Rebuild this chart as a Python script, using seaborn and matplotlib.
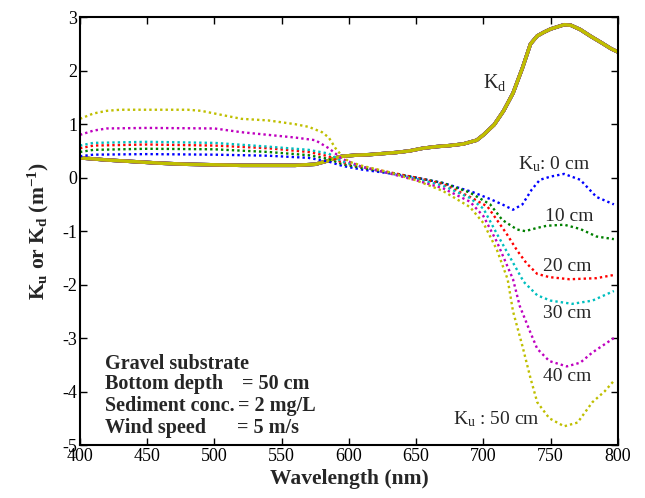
import matplotlib
matplotlib.use("Agg")
import pandas as pd
import seaborn as sns
from matplotlib import pyplot as plt

# K_d (downwelling), all depths nearly identical
kd_wl = [400, 420, 440, 460, 480, 500, 520, 540, 560, 575, 585, 590, 595, 605, 615, 625,
         635, 645, 655, 665, 675, 685, 695, 700, 708, 715, 722, 729, 735, 740, 745, 750,
         755, 760, 765, 772, 780, 788, 795, 800]
kd_val = [0.37, 0.33, 0.30, 0.27, 0.25, 0.24, 0.23, 0.23, 0.23, 0.25, 0.32, 0.37, 0.40, 0.42,
          0.43, 0.45, 0.47, 0.50, 0.55, 0.58, 0.60, 0.63, 0.70, 0.80, 0.99, 1.25, 1.58, 2.05,
          2.50, 2.65, 2.72, 2.78, 2.82, 2.86, 2.85, 2.77, 2.64, 2.52, 2.41, 2.35]

# K_u (upwelling) per depth
ku_wl_0 = [400, 410, 450, 500, 540, 570, 585, 595, 610, 630, 650, 670, 692, 705, 714, 722,
           729, 736, 742, 750, 760, 772, 784, 797]
ku_0 = [0.40, 0.43, 0.44, 0.43, 0.41, 0.37, 0.30, 0.22, 0.15, 0.08, 0.00, -0.10, -0.27,
        -0.40, -0.50, -0.60, -0.50, -0.22, -0.04, 0.02, 0.07, -0.04, -0.36, -0.50]

ku_wl_10 = [400, 410, 450, 500, 540, 570, 585, 595, 610, 630, 650, 670, 690, 705, 714, 725,
            731, 740, 747, 760, 772, 784, 797]
ku_10 = [0.48, 0.52, 0.54, 0.53, 0.48, 0.42, 0.35, 0.25, 0.18, 0.10, 0.00, -0.10, -0.28,
         -0.50, -0.79, -0.97, -1.00, -0.94, -0.90, -0.88, -0.96, -1.10, -1.15]

ku_wl_20 = [400, 410, 450, 500, 540, 570, 585, 595, 610, 630, 650, 670, 690, 703, 710, 717,
            725, 732, 740, 749, 764, 784, 797]
ku_20 = [0.55, 0.60, 0.62, 0.60, 0.55, 0.48, 0.40, 0.28, 0.20, 0.10, 0.00, -0.12, -0.36,
         -0.54, -0.79, -1.04, -1.36, -1.60, -1.80, -1.86, -1.90, -1.88, -1.82]

ku_wl_30 = [400, 410, 450, 500, 540, 570, 585, 595, 610, 630, 650, 670, 690, 700, 710, 720,
            730, 740, 750, 766, 781, 797]
ku_30 = [0.60, 0.65, 0.67, 0.65, 0.58, 0.52, 0.45, 0.30, 0.20, 0.08, -0.02, -0.15, -0.38,
         -0.58, -1.05, -1.50, -1.95, -2.20, -2.30, -2.36, -2.30, -2.12]

ku_wl_40 = [400, 410, 420, 450, 500, 520, 540, 560, 575, 585, 595, 610, 630, 650, 670, 690,
            700, 710, 722, 727, 735, 740, 749, 762, 772, 781, 797]
ku_40 = [0.80, 0.88, 0.92, 0.93, 0.92, 0.85, 0.80, 0.75, 0.70, 0.55, 0.35, 0.20, 0.08,
         -0.05, -0.20, -0.45, -0.72, -1.20, -1.90, -2.40, -2.90, -3.20, -3.43, -3.53, -3.46,
         -3.27, -3.00]

ku_wl_50 = [400, 410, 420, 430, 450, 480, 490, 500, 520, 540, 560, 570, 580, 585, 590, 595,
            600, 610, 630, 650, 670, 690, 700, 710, 718, 722, 729, 735, 740, 749, 760, 770,
            781, 790, 797]
ku_50 = [1.10, 1.20, 1.25, 1.27, 1.27, 1.27, 1.25, 1.20, 1.10, 1.07, 1.00, 0.95, 0.85, 0.75,
         0.55, 0.40, 0.30, 0.22, 0.10, -0.05, -0.25, -0.55, -0.85, -1.35, -1.90, -2.50,
         -3.15, -3.75, -4.20, -4.50, -4.65, -4.58, -4.20, -4.00, -3.80]

colors = ["b", "g", "r", "c", "m", "y"]
ku_wls = [ku_wl_0, ku_wl_10, ku_wl_20, ku_wl_30, ku_wl_40, ku_wl_50]
ku_vals = [ku_0, ku_10, ku_20, ku_30, ku_40, ku_50]

sns.set_style("ticks")
plt.rcParams["font.family"] = ["Liberation Serif", "DejaVu Serif"]
plt.rcParams["mathtext.fontset"] = "custom"
plt.rcParams["mathtext.rm"] = "Liberation Serif"
plt.rcParams["mathtext.it"] = "Liberation Serif:italic"
plt.rcParams["mathtext.bf"] = "Liberation Serif:bold"
plt.rcParams["axes.unicode_minus"] = False

fig = plt.figure(figsize=(6.45, 4.98), dpi=100)
ax = fig.add_axes([0.124, 0.1064, 0.834, 0.859])

# K_d solid lines
for c in colors:
    sns.lineplot(x=kd_wl, y=kd_val, ax=ax, color=c, linewidth=2.5, estimator=None)

# K_u dotted lines
for c, wl, v in zip(colors, ku_wls, ku_vals):
    df = pd.DataFrame({"wl": wl, "k": v})
    sns.lineplot(data=df, x="wl", y="k", ax=ax, color=c, linewidth=1.7,
                 linestyle=(0, (1, 1.3)), estimator=None)

ax.set_xlim(400, 800)
ax.set_ylim(-5, 3)
ax.set_xticks(range(400, 801, 50))
ax.set_yticks(range(-5, 4))
ax.tick_params(direction="in", top=True, right=True, length=5, width=1,
               labelsize=13, colors="black", pad=2)
for s in ax.spines.values():
    s.set_linewidth(1.5)
    s.set_color("black")

ax.set_xlabel("Wavelength (nm)", fontsize=15.5, fontweight="bold", labelpad=3)
ax.set_ylabel(r"$\mathbf{K_u}$ or $\mathbf{K_d}$ (m$^{\mathbf{-1}}$)",
              fontsize=15.5, fontweight="bold", labelpad=8)

# curve labels
ax.text(699.6, 1.68, r"K$_\mathrm{d}$", fontsize=14.5, va="baseline")
ax.text(725.6, 0.15, r"K$_\mathrm{u}$: 0 cm", fontsize=14, va="baseline")
ax.text(745.7, -0.82, "10 cm", fontsize=14, va="baseline")
ax.text(744.5, -1.74, "20 cm", fontsize=14, va="baseline")
ax.text(744.5, -2.62, "30 cm", fontsize=14, va="baseline")
ax.text(744.5, -3.81, "40 cm", fontsize=14, va="baseline")
ax.text(677.3, -4.62, r"K$_\mathrm{u}$ : 50 cm", fontsize=14, va="baseline")

# conditions box
info_left = ["Gravel substrate", "Bottom depth", "Sediment conc.", "Wind speed"]
info_right = ["", "= 50 cm", "= 2 mg/L", "= 5 m/s"]
info_y = [-3.57, -3.96, -4.37, -4.77]
info_eq_x = [0, 520.4, 517.5, 516.5]
for lt, rt, yy, ex in zip(info_left, info_right, info_y, info_eq_x):
    ax.text(418.6, yy, lt, fontsize=14.5, fontweight="bold", va="baseline")
    if rt:
        ax.text(ex, yy, rt, fontsize=14.5, fontweight="bold", va="baseline")

fig.savefig("out.png", dpi=100)
